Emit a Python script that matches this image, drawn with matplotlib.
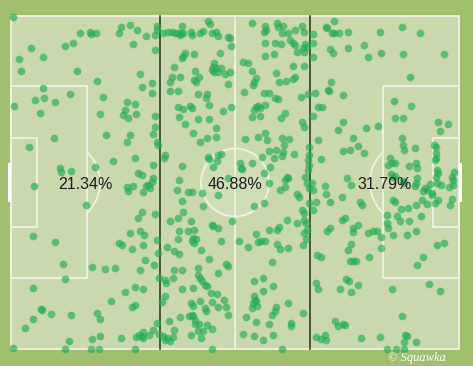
import matplotlib.pyplot as plt
from matplotlib.patches import Rectangle, Ellipse

# touch locations, pitch scaled 0-100 both ways (y measured from the top touchline)
def_top_x = [0.4, 15.4, 17.6, 17.9, 18.9, 24.6, 26.6, 24.1, 28.1, 30.1, 32.1, 32.5, 32.6, 4.5, 12.1,
             13.8, 1.8, 7.2, 2.2, 14.7, 27.2, 32.2, 28.7, 19.3, 31.5, 29.2, 31.5, 7.1, 13.2, 5.3, 7.4,
             9.8, 0.7, 20.5, 25.8, 27.7, 25.4, 25.0, 26.1, 27.8, 19.8, 6.4, 32.1]
def_top_y = [0.4, 5.1, 4.8, 5.4, 5.1, 3.2, 2.6, 5.1, 4.3, 6.1, 5.8, 2.9, 4.2, 9.7, 8.9,
             8.0, 13.0, 12.4, 16.4, 16.6, 8.5, 10.3, 17.3, 19.5, 20.1, 21.3, 23.0, 21.5, 23.5, 25.1, 24.6,
             25.9, 27.0, 24.3, 25.9, 26.4, 28.2, 29.7, 30.6, 29.5, 29.3, 29.2, 30.0]

mid_top_l_x = [34.0, 35.1, 35.9, 36.6, 37.3, 37.9, 38.5, 37.7, 40.2, 40.3, 42.2, 42.9, 44.8, 45.8, 46.3, 48.5, 48.9,
               38.1, 43.9, 44.4, 49.0, 38.8, 38.5, 38.1, 40.8, 46.7, 36.4,
               45.4, 45.2, 45.8, 45.4, 44.9, 46.3, 46.9,
               41.1, 47.8, 48.9, 36.0, 37.7, 40.8, 41.4, 42.0, 35.5, 48.4, 35.6, 37.2, 41.8, 43.7, 43.6,
               37.3, 38.3, 40.0, 40.5, 44.1, 49.0, 47.4, 37.6, 41.8, 44.2]
mid_top_l_y = [5.2, 4.7, 4.9, 5.2, 5.0, 5.2, 5.0, 5.7, 4.7, 5.7, 5.0, 4.4, 5.2, 4.9, 6.0, 6.4, 6.7,
               3.0, 1.4, 2.4, 9.0, 11.0, 12.0, 12.7, 11.4, 11.0, 15.2,
               14.0, 15.2, 15.7, 16.7, 16.2, 16.7, 15.7,
               16.4, 17.4, 16.8, 18.2, 18.4, 19.2, 19.7, 18.2, 19.7, 20.5, 22.4, 22.6, 23.5, 23.5, 24.5,
               27.2, 28.0, 27.0, 27.7, 26.7, 27.2, 28.5, 30.4, 30.9, 30.8]

mid_top_r_x = [53.9, 56.7, 56.9, 56.5, 59.3, 59.7, 60.8, 60.4, 61.8, 63.5, 64.9, 65.4, 67.5,
               56.7, 58.9, 60.3, 62.3, 62.9, 63.4, 65.6, 65.2, 66.0, 67.3, 63.8, 65.4, 56.7, 58.8, 67.4,
               51.7, 52.8, 63.0, 65.3, 53.9, 59.1, 54.6, 54.3, 54.1, 59.9, 61.3, 63.0, 63.5,
               52.0, 56.5, 57.7, 58.9, 59.7, 64.7, 66.2, 67.9, 68.5,
               54.7, 55.2, 54.3, 56.7, 55.6, 53.9, 55.6, 61.2, 60.3, 67.5]
mid_top_r_y = [2.2, 3.0, 4.2, 4.7, 2.0, 3.2, 2.9, 5.0, 5.0, 4.2, 2.9, 4.7, 5.5,
               8.0, 8.2, 8.5, 7.2, 8.2, 8.7, 8.4, 9.7, 9.2, 8.2, 10.7, 10.7, 11.9, 11.5, 12.4,
               13.9, 14.0, 15.0, 14.9, 16.5, 17.2, 18.7, 19.7, 20.7, 19.7, 19.5, 18.9, 18.2,
               22.7, 23.2, 23.0, 24.7, 25.0, 24.4, 23.5, 23.0, 27.2,
               27.2, 27.0, 28.2, 26.7, 27.5, 30.4, 30.0, 29.2, 30.7, 30.0]

att_top_x = [72.2, 70.3, 70.6, 71.7, 72.1, 73.3, 75.2, 71.2, 71.9, 75.3, 78.7, 79.7, 82.4, 87.2,
             91.2, 82.6, 87.4, 96.6, 89.1, 71.4, 70.7, 70.9, 74.0, 69.4, 85.5, 89.2, 85.7, 87.4]
att_top_y = [1.6, 3.2, 3.6, 5.2, 5.2, 5.1, 4.9, 10.0, 11.2, 9.7, 8.8, 12.2, 4.9, 3.2,
             5.1, 11.2, 11.5, 11.3, 18.2, 19.7, 22.2, 22.6, 23.7, 27.2, 25.5, 27.1, 30.7, 30.5]

def_mid_x = [32.1, 21.2, 26.6, 25.8, 31.6, 32.5, 32.9, 9.6, 4.0, 22.7, 27.7, 31.8, 18.7, 10.9, 11.2,
             13.5, 28.4, 29.2, 31.8, 31.4, 30.6, 30.1, 31.0, 27.3, 25.8, 26.2, 29.5, 5.1, 16.7, 29.2,
             28.4, 32.1, 26.6, 28.8, 29.7, 4.8]
def_mid_y = [33.4, 35.7, 35.7, 37.7, 35.4, 37.7, 38.7, 36.6, 39.4, 43.4, 42.5, 44.7, 45.3, 45.7, 46.9,
             46.6, 47.2, 47.7, 48.7, 49.7, 50.7, 51.2, 51.7, 51.2, 51.5, 52.5, 53.0, 51.1, 56.9, 59.0,
             60.7, 59.5, 65.2, 64.5, 65.7, 66.0]

def_bot_x = [9.8, 24.1, 24.7, 26.9, 29.5, 32.7, 32.8, 29.8, 28.8, 31.9, 11.5, 18.1, 21.0, 23.2, 12.0,
             4.8, 27.7, 29.4, 25.4, 33.0, 22.4, 26.9, 27.7, 6.7, 7.0, 8.9, 13.5, 19.1, 19.9, 4.8,
             3.1, 32.5, 31.8, 30.9, 29.5, 29.2, 27.9, 28.6, 29.5, 33.0, 19.9, 18.1, 12.9, 24.5, 0.4,
             12.0, 17.9, 19.7, 27.7]
def_bot_y = [67.9, 68.2, 68.7, 69.9, 68.9, 67.2, 71.2, 73.4, 76.2, 74.9, 74.6, 75.4, 75.9, 75.7, 79.1,
             81.8, 81.4, 81.9, 83.0, 78.7, 85.7, 87.5, 86.9, 87.9, 88.2, 89.4, 89.8, 89.1, 91.0, 90.9,
             93.7, 92.2, 94.2, 95.7, 95.0, 96.2, 96.5, 95.7, 96.7, 95.4, 96.0, 97.0, 97.7, 96.7, 99.7,
             100, 100, 100, 100]

mid_centre_x = [38.8, 40.7, 45.7, 45.8, 43.8, 42.2, 52.2, 55.1, 56.7, 57.1, 60.6, 62.1, 61.0, 64.9, 65.4,
                34.4, 34.2, 38.1, 44.0, 44.3, 46.3, 46.9, 46.0, 45.0, 51.1, 51.3, 51.6, 53.7, 56.0, 57.7,
                59.1, 58.7, 60.8, 60.4, 63.2,
                66.5, 66.5, 66.4, 66.6, 66.4,
                37.6, 57.9, 56.5, 61.5, 61.9, 61.2, 65.6, 66.0, 37.0, 39.4, 40.3, 42.6, 46.3, 48.5, 57.7,
                60.0, 61.1, 63.9, 64.3, 66.6,
                38.1, 42.9, 54.3, 56.5, 38.5, 35.6, 37.3, 40.2, 44.8, 45.2, 46.3, 37.6, 39.4, 40.9, 49.3,
                54.6, 57.6, 59.4, 59.9, 61.5, 63.8, 64.9, 65.4, 65.5, 65.8, 66.0, 65.5, 66.6]
mid_centre_y = [32.4, 35.2, 33.5, 36.2, 36.7, 37.7, 37.0, 36.2, 35.0, 37.2, 36.7, 37.0, 38.7, 31.9, 33.4,
                41.7, 42.5, 44.9, 42.2, 42.9, 41.7, 41.5, 43.5, 45.4, 44.2, 45.5, 46.0, 44.2, 42.2, 40.5,
                40.2, 42.5, 40.7, 42.0, 41.5,
                39.4, 41.7, 43.2, 44.7, 46.2,
                49.1, 45.4, 47.2, 48.2, 48.7, 49.2, 48.4, 50.2, 52.2, 52.9, 52.9, 53.3, 53.7, 48.7, 50.2,
                52.2, 51.5, 53.4, 54.4, 51.7,
                55.5, 57.2, 57.2, 56.2, 59.0, 61.7, 60.7, 61.5, 62.7, 63.2, 63.7, 64.5, 64.5, 64.2, 61.7,
                65.4, 64.2, 64.2, 63.5, 61.2, 62.2, 58.4, 59.2, 61.2, 62.2, 64.2, 65.2, 56.2]

att_centre_x = [74.2, 73.1, 76.4, 77.5, 78.8, 79.2, 82.0, 95.4, 97.6, 95.8, 68.6, 74.0, 75.7, 87.2, 87.6,
                87.8, 90.2, 94.4, 94.8, 94.9, 94.9, 94.6,
                69.3, 84.6, 85.0, 85.7, 84.2, 88.9, 90.4, 90.7, 95.2, 95.4, 94.9, 98.9, 98.5, 98.6, 84.8,
                85.2, 85.8, 87.4, 87.8, 90.7, 90.4, 90.2,
                75.1, 75.8, 67.1, 67.5, 70.1, 70.3, 95.2, 96.0, 97.8, 98.6, 93.5, 92.4, 92.8, 92.0, 93.9,
                94.0, 73.8, 68.0, 71.2, 77.9, 78.3,
                85.3, 85.7, 87.0, 88.7, 90.4, 91.7, 92.8, 94.6, 95.4, 98.4, 98.0, 84.0, 86.2, 86.8, 91.5,
                88.8, 67.5, 73.8, 74.5,
                71.2, 70.5, 76.4, 76.3, 77.5, 79.7, 80.9, 81.6, 84.0, 84.2, 82.5, 85.3, 88.3, 90.4]
att_centre_y = [31.9, 34.2, 36.5, 38.9, 41.2, 33.7, 33.0, 31.7, 32.5, 34.5, 37.2, 40.5, 40.2, 36.5, 38.7,
                40.2, 39.5, 38.7, 39.3, 41.2, 42.5, 43.2,
                43.0, 42.7, 44.2, 44.2, 44.7, 44.9, 44.2, 45.7, 46.2, 47.2, 48.2, 46.9, 48.2, 49.2, 47.5,
                48.2, 48.0, 49.5, 50.2, 48.7, 50.2, 51.2,
                48.5, 50.7, 50.2, 52.2, 51.2, 53.4, 50.2, 50.7, 51.5, 50.7, 50.5, 51.7, 52.2, 52.7, 53.2,
                53.7, 54.5, 56.0, 55.9, 55.9, 56.7,
                55.2, 55.9, 57.9, 57.7, 56.9, 55.2, 56.5, 56.2, 55.2, 54.9, 56.9, 59.7, 60.2, 61.5, 60.2,
                61.7, 58.2, 61.2, 60.7,
                63.7, 64.7, 63.7, 64.9, 62.7, 65.2, 64.5, 64.7, 62.2, 63.7, 66.4, 65.9, 65.9, 64.5]

mid_bot_x = [37.2, 40.7, 40.9, 40.4, 41.3, 42.3, 46.8, 34.9, 36.4, 37.6, 44.2, 36.4, 38.1, 41.8, 48.1,
             48.4, 46.3, 34.4, 34.6, 36.1,
             41.7, 42.2, 42.7, 43.3, 43.7, 38.2, 40.7, 44.6, 45.9, 34.4, 33.8, 42.2, 40.2, 44.8, 47.5,
             40.6, 43.3, 43.5, 46.3, 48.0,
             40.4, 40.7, 39.8, 41.1, 48.4, 37.7, 35.3, 42.0, 41.1, 43.7, 44.9, 36.4, 41.8, 42.8, 34.0,
             34.8, 35.5, 34.4, 36.1, 40.2, 42.3, 44.8,
             51.0, 53.0, 55.2, 55.7, 56.7, 59.4, 60.0, 61.8, 65.2, 65.8, 68.4, 58.2, 54.2, 56.2, 58.5,
             56.3, 54.2, 54.5, 54.1, 54.8,
             53.9, 54.7, 59.1, 58.9, 58.2, 61.8, 65.1, 68.0, 68.5, 52.5, 54.7, 57.6, 62.4, 62.5, 51.7,
             54.3, 56.3, 58.4, 60.5, 68.0]
mid_bot_y = [66.9, 66.7, 68.2, 67.6, 67.1, 70.2, 67.7, 69.4, 70.5, 71.4, 72.9, 76.4, 76.2, 75.7, 74.5,
             75.2, 77.2, 79.2, 80.2, 78.7,
             77.9, 78.7, 79.7, 80.7, 81.2, 81.9, 81.7, 83.2, 83.5, 84.2, 85.9, 85.7, 86.2, 86.0, 85.2,
             87.2, 87.7, 88.5, 87.5, 87.5,
             89.7, 90.2, 90.2, 91.2, 89.7, 90.5, 91.5, 92.5, 92.5, 92.9, 94.0, 94.2, 94.7, 94.7, 96.2,
             96.7, 97.7, 97.2, 96.4, 95.9, 96.7, 100,
             67.7, 69.4, 67.9, 67.5, 67.7, 68.5, 69.9, 69.7, 68.7, 66.9, 71.9, 73.9, 79.7, 78.7, 81.2,
             82.7, 84.2, 85.2, 86.2, 87.2,
             87.7, 85.7, 87.5, 88.7, 89.7, 86.2, 89.2, 80.2, 81.9, 90.5, 91.9, 92.5, 92.2, 93.2, 95.4,
             96.2, 97.2, 95.9, 100, 96.5]

att_bot_x = [76.0, 75.3, 82.5, 95.0, 96.7, 69.3, 75.7, 76.3, 77.0, 79.9, 92.0, 90.6, 73.4, 74.7, 75.5,
             77.5, 76.0, 85.0, 93.4, 95.8,
             87.3, 72.3, 73.1, 74.2, 74.6, 69.3, 70.1, 70.4, 78.1, 82.4, 87.9, 88.5, 87.7, 90.4, 84.0,
             85.9, 87.8]
att_bot_y = [68.5, 70.4, 69.7, 68.7, 68.2, 72.3, 73.5, 73.7, 73.5, 72.4, 72.4, 74.7, 82.0, 79.0, 79.5,
             80.9, 82.9, 82.0, 80.5, 82.7,
             90.0, 91.7, 93.0, 92.5, 92.9, 97.0, 95.7, 97.3, 96.8, 96.5, 95.7, 96.0, 97.9, 97.9, 100,
             100, 100]

zone_shares = [21.34, 46.88, 31.79]

groups = [(def_top_x, def_top_y), (mid_top_l_x, mid_top_l_y), (mid_top_r_x, mid_top_r_y),
          (att_top_x, att_top_y), (def_mid_x, def_mid_y), (def_bot_x, def_bot_y),
          (mid_centre_x, mid_centre_y), (att_centre_x, att_centre_y),
          (mid_bot_x, mid_bot_y), (att_bot_x, att_bot_y)]

touch_x, touch_y = [], []
for gx, gy in groups:
    assert len(gx) == len(gy), (len(gx), len(gy), gx[:3])
    touch_x += gx
    touch_y += gy

FRAME = '#a1bf6f'
PITCH = '#c9d9ad'
LINE = '#eef3e2'
DOT = '#26ad53'

fig = plt.figure(figsize=(4.73, 3.66), dpi=100)
fig.patch.set_facecolor(FRAME)
ax = fig.add_axes([0, 0, 1, 1])
ax.set_xlim(-2.455, 103.125)
ax.set_ylim(105.1, -4.8)
ax.axis('off')

# pitch
ax.add_patch(Rectangle((0, 0), 100, 100, facecolor=PITCH, edgecolor=LINE, lw=1.3, zorder=0))
ax.add_patch(Ellipse((50, 50), 15.2, 20.4, facecolor='white', alpha=0.13, lw=0, zorder=0.5))
ax.plot([50, 50], [0, 100], color=LINE, lw=1.3, zorder=1)
ax.add_patch(Ellipse((50, 50), 15.2, 20.4, fill=False, edgecolor=LINE, lw=1.3, zorder=1))

for left in (True, False):
    bx = 0 if left else 100 - 17.0
    ax.add_patch(Rectangle((bx, 21.0), 17.0, 57.8, fill=False, edgecolor=LINE, lw=1.3, zorder=1))
    sx = 0 if left else 100 - 5.8
    ax.add_patch(Rectangle((sx, 36.6), 5.8, 26.7, fill=False, edgecolor=LINE, lw=1.3, zorder=1))
    gx = -0.7 if left else 100
    ax.add_patch(Rectangle((gx, 44.1), 0.7, 11.8, facecolor='white', lw=0, zorder=1))
    cx = 10.5 if left else 89.5
    arc = Ellipse((cx, 50), 18.75, 25.2, fill=False, edgecolor=LINE, lw=1.3, zorder=1)
    ax.add_patch(arc)
    clip = Rectangle((17.0, 0) if left else (63.0, 0), 20, 100, transform=ax.transData)
    arc.set_clip_path(clip)

# thirds
for edge in (100 / 3, 200 / 3):
    ax.plot([edge, edge], [0, 100], color='#243318', lw=1.1, zorder=2)

ax.scatter(touch_x, touch_y, s=31, color=DOT, alpha=0.66, linewidths=0, zorder=3)

for i, share in enumerate(zone_shares):
    ax.text(100 / 6 + i * 100 / 3, 50.6, f'{share:.2f}%', ha='center', va='center',
            fontsize=11.5, color='#1c1c1c', family='Liberation Sans', zorder=4)

fig.text(0.942, 0.014, '\u00a9 Squawka', color='white', fontsize=9, style='italic',
         family='Liberation Serif', ha='right', va='baseline')

fig.savefig('out.png', dpi=100, facecolor=FRAME)
